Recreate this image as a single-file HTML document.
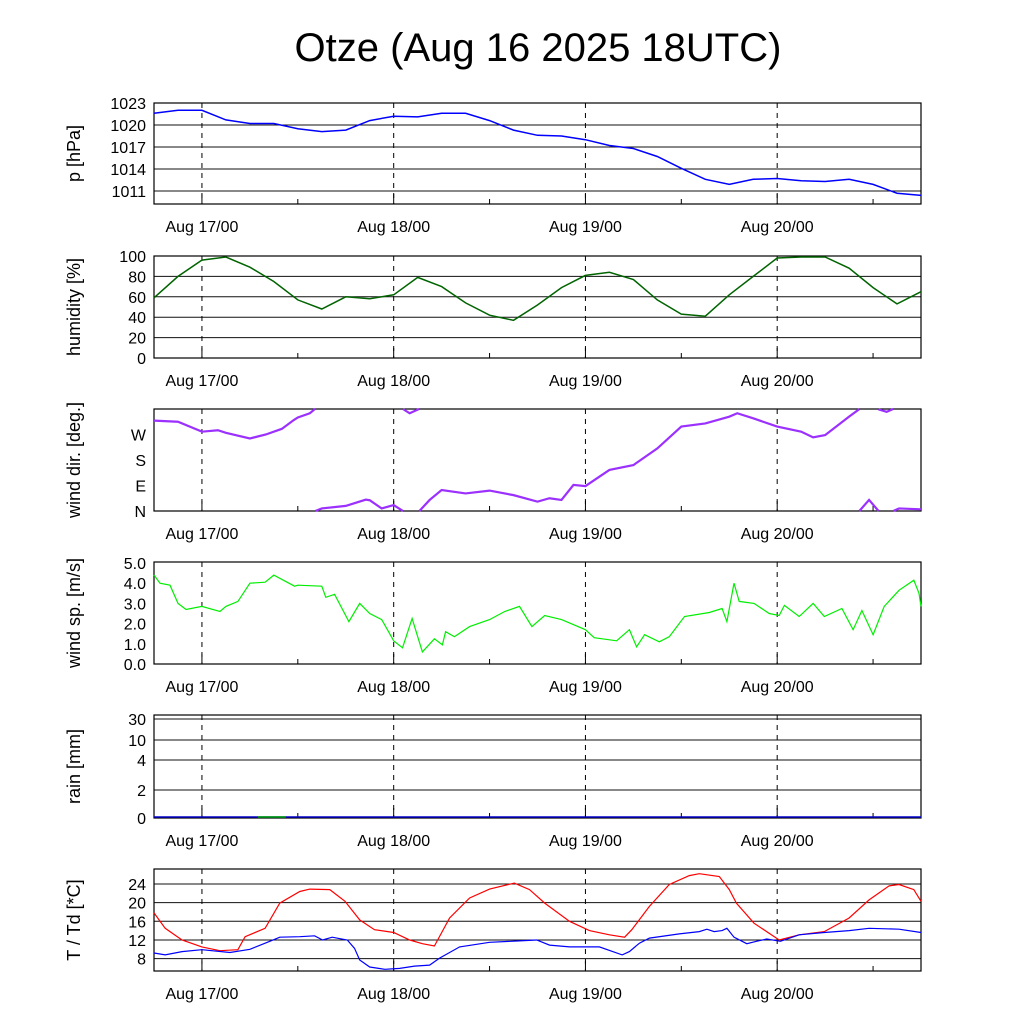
<!DOCTYPE html>
<html><head><meta charset="utf-8"><style>
body{margin:0;background:#fff}
svg{display:block;font-family:"Liberation Sans",sans-serif}
</style></head><body>
<svg id="c" width="1024" height="1024" viewBox="0 0 1024 1024">
<rect width="1024" height="1024" fill="#fff"/>
<text x="538" y="61" font-size="40" text-anchor="middle">Otze (Aug 16 2025 18UTC)</text>
</svg>
<script>
// ---- data ----
const dayLabels=["Aug 17/00","Aug 18/00","Aug 19/00","Aug 20/00"];
const dayHours=[6,30,54,78];
const pressureVals=[1021.6,1022.0,1022.0,1020.7,1020.2,1020.2,1019.5,1019.1,1019.3,1020.6,1021.2,1021.1,1021.6,1021.6,1020.6,1019.3,1018.6,1018.5,1018.0,1017.2,1016.8,1015.7,1014.1,1012.6,1011.9,1012.6,1012.7,1012.4,1012.3,1012.6,1011.9,1010.7,1010.4];
const humidityVals=[59,80,96,99,89,75,57,48,60,58,62,79,70,54,42,37,52,69,81,84,77,57,43,41,62,80,98,99,99,88,69,53,65];
const dirHours=[0,3,6,8,9,12,14,16,17.5,18,19.5,20.1,21,24,26.5,27,28.5,30,31.1,32,33.25,34.5,36,39,42,45,48,49.5,51,52.5,54,57,60,63,66,69,72,73,75,78,81,82.5,84,87,88.25,89.5,90.75,91.7,92.6,93.25,96];
const dirVals=[319,315,280,285,276,256,270,290,321,330,345,359,369,378,400,398,369,381,361,345,361,399,434,422,432,416,393,405,399,452,448,505,522,581,658,669,693,705,687,658,640,620,628,693,719,759,718,710,721,729,726];
const spdHours=[0,0.75,2,3,4,6,8.25,9,10.5,12,13.9,15,17.6,18,21,21.5,22.6,24.4,25.75,27,28.5,30,31.1,32.3,33.6,35.1,36.1,36.5,37.6,39.5,42,43.9,45.75,47.3,48.9,51,54,55.1,57.9,59.5,60.4,61.4,63.25,64.5,66.4,69.5,71.1,71.7,72.6,73.25,75.1,77,78.25,78.9,80.75,82.5,83.9,86.1,87.5,88.6,90,91.4,93.25,95.1,95.75,96];
const spdVals=[4.4,4.0,3.9,3.0,2.7,2.85,2.6,2.85,3.1,4.0,4.05,4.4,3.85,3.9,3.85,3.3,3.45,2.1,3.0,2.5,2.2,1.15,0.8,2.25,0.6,1.25,0.95,1.6,1.35,1.85,2.2,2.6,2.85,1.85,2.4,2.2,1.7,1.3,1.15,1.7,0.85,1.45,1.1,1.35,2.35,2.55,2.75,2.1,4.0,3.1,3.0,2.5,2.4,2.9,2.35,3.0,2.35,2.75,1.7,2.65,1.45,2.85,3.65,4.15,3.5,2.85];
const tHours=[0,1.4,3.5,6,8.25,10.5,11.4,13.9,15.75,18.25,19.5,22,23.9,25.75,27.6,30,32,33.6,35.1,37,39.5,42,45.1,47,48.9,52,54.5,57,58.9,59.8,62,64.5,67,68.25,70.75,72,72.9,75.1,78.25,80.75,83.9,87,89.5,92,93.25,95.1,96];
const tVals=[17.8,14.5,12.0,10.5,9.7,9.9,12.7,14.5,19.9,22.4,22.9,22.8,20.3,16.3,14.2,13.6,12.0,11.2,10.7,16.7,21.0,22.9,24.2,22.8,19.9,16.0,14.0,13.1,12.6,14.2,19.2,23.9,25.8,26.2,25.6,22.8,19.9,15.6,12.0,13.1,13.8,16.7,20.6,23.6,23.9,22.8,20.3];
const tdHours=[0,1.4,3.5,6,9.5,12,14.5,15.75,18.25,20.1,21.1,22.3,24.2,25.1,25.75,27,28.9,30.75,32.6,34.5,35.75,38.25,42,45.75,47.9,49.5,52,55.75,58.6,59.5,60.75,62,65.75,68.25,69.2,70.1,71.1,71.7,72.6,74.2,75.4,76.7,78.4,80.75,83.9,87,89.5,93.25,96];
const tdVals=[9.2,8.8,9.5,9.9,9.3,10.0,11.7,12.6,12.7,12.9,12.0,12.6,12.0,10.2,7.7,6.2,5.7,5.9,6.4,6.6,8.1,10.5,11.5,11.8,12.0,10.9,10.5,10.5,8.8,9.5,11.3,12.4,13.3,13.8,14.3,13.8,14.0,14.5,12.6,11.2,11.7,12.2,11.7,13.1,13.6,14.0,14.5,14.3,13.6];
const rainTicks=["0","2","4","10","30"];
// ---- layout ----
const NS="http://www.w3.org/2000/svg", svg=document.getElementById('c');
const X0=154,X1=921,H=96;
const xs=h=>X0+(X1-X0)*h/H;
function el(t,a,p){const e=document.createElementNS(NS,t);for(const k in a)e.setAttribute(k,a[k]);(p||svg).appendChild(e);return e;}
function panel(name,top,bot,title,ticks,y){
  const g=el('g',{});
  
  
  ticks.forEach(t=>{const yy=y(t.v);
    if(t.grid){const l=el('line',{x1:X0,x2:X1,y1:yy,y2:yy,stroke:'#111','stroke-width':1},g);
      
      }
    const tx=el('text',{x:146,y:yy+6,'font-size':16,'text-anchor':'end'},g);tx.textContent=t.l;
    
    
  });
  dayHours.forEach((h,i)=>{const x=xs(h);
    const d=el('line',{x1:x,x2:x,y1:top,y2:bot,stroke:'#000','stroke-dasharray':'5,5'},g);
    
    
    const lb=el('text',{x:x,y:bot+28,'font-size':16,'text-anchor':'middle'},g);lb.textContent=dayLabels[i];
    
    
    el('line',{x1:x,x2:x,y1:bot,y2:bot-10,stroke:'#000'},g);
    const xm=xs(h+12);el('line',{x1:xm,x2:xm,y1:bot,y2:bot-5,stroke:'#000'},g);
  });
  const r=el('rect',{x:X0,y:top,width:X1-X0,height:bot-top,fill:'none',stroke:'#000','stroke-width':1.2},g);
  
  
  const cy=(top+bot)/2;
  const tt=el('text',{x:80,y:cy,'font-size':18,'text-anchor':'middle',transform:`rotate(-90 80 ${cy})`},g);tt.textContent=title;
  
  
}
function line(name,hrs,vals,y,color,w){
  const d=hrs.map((h,i)=>(i?'L':'M')+xs(h).toFixed(1)+','+y(vals[i]).toFixed(1)).join('');
  const p=el('path',{d:d,fill:'none',stroke:color,'stroke-width':w||1.5});
  
  
}
const idxH=a=>a.map((_,i)=>i*3);
// pressure
const yP=v=>103+(1023-v)*(191-103)/12;
panel('pressure',103,204,'p [hPa]',[1023,1020,1017,1014,1011].map(v=>({v:v,l:v,grid:true})),yP);
line('pressure-line',idxH(pressureVals),pressureVals,yP,'#0000ff',1.5);
// humidity
const yH=v=>358-v*1.02;
panel('humidity',256,358,'humidity [%]',[0,20,40,60,80,100].map(v=>({v:v,l:v,grid:true})),yH);
line('humidity-line',idxH(humidityVals),humidityVals,yH,'#006400',1.5);
// wind dir
const yD=v=>511-v*(102/360);
panel('wind-direction',409,511,'wind dir. [deg.]',[{v:0,l:'N'},{v:90,l:'E'},{v:180,l:'S'},{v:270,l:'W'}],yD);
(function(){let d='';
  for(let i=0;i<dirVals.length;i++){
    const h=dirHours[i],v=dirVals[i];
    if(i===0){d+='M'+xs(h)+','+yD(((v%360)+360)%360);continue;}
    const h0=dirHours[i-1],v0=dirVals[i-1];
    const lo=Math.min(v0,v),hi=Math.max(v0,v);
    for(let k=Math.ceil(lo/360)*360;k<hi;k+=360){
      if(k<=lo)continue;
      const hc=h0+(h-h0)*(k-v0)/(v-v0);
      const up=v>v0;
      d+='L'+xs(hc)+','+yD(up?360:0)+'M'+xs(hc)+','+yD(up?0:360);
    }
    const m=((v%360)+360)%360;
    d+='L'+xs(h)+','+yD(m);
  }
  const p=el('path',{d:d,fill:'none',stroke:'#9b30ff','stroke-width':2.2});
  
  
})();
// wind speed
const yS=v=>664-v*(101/5);
panel('wind-speed',562,664,'wind sp. [m/s]',[0,1,2,3,4,5].map(v=>({v:v,l:v.toFixed(1),grid:false})),yS);
line('wind-speed-line',spdHours,spdVals,yS,'#00ee00',1.2);
// rain
const rainY=[818,790,760,740,719];
panel('rain',715,818,'rain [mm]',rainTicks.map((t,i)=>({v:i,l:t,grid:true})),i=>rainY[i]);
line('rain-line',[0,96],[0,0],()=>817,'#0000cc',1.5);
line('rain-green',[13,16.5],[0,0],()=>817,'#00aa00',1.5);
// temperature
const yT=v=>958.6-(v-8)*(18.65/4);
panel('temperature',869,971,'T / Td [*C]',[8,12,16,20,24].map(v=>({v:v,l:v,grid:true})),yT);
line('temperature-line',tHours,tVals,yT,'#ff0000',1.2);
line('dewpoint-line',tdHours,tdVals,yT,'#0000ff',1.2);
</script>
</body></html>
